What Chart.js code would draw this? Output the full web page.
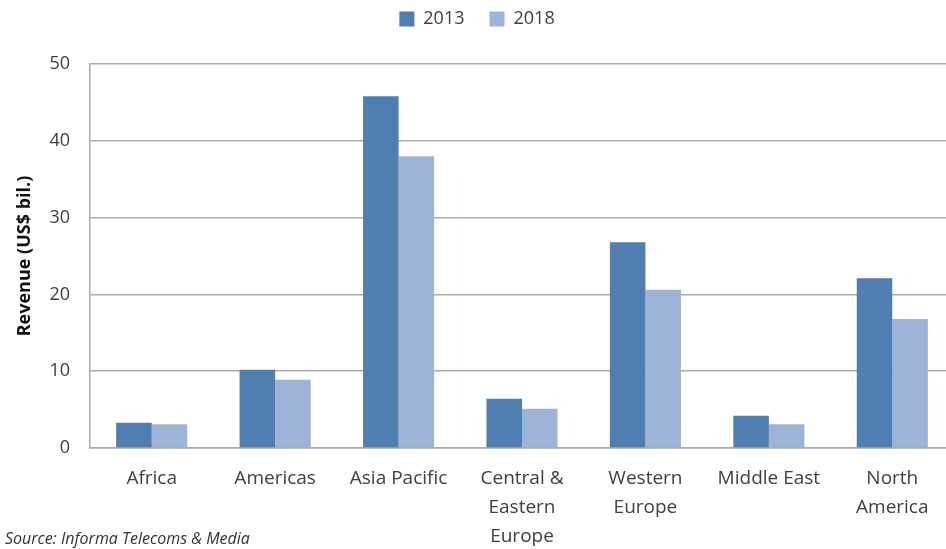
<!DOCTYPE html>
<html>
<head>
<meta charset="utf-8">
<script src="https://cdn.jsdelivr.net/npm/chart.js@4.4.1/dist/chart.umd.min.js"></script>
<style>
  html, body { margin: 0; padding: 0; background: #fff; overflow: hidden; }
  #wrap { position: relative; width: 956px; height: 549px; }
  #source {
    position: absolute; left: 5px; top: 527px;
    font-family: "Open Sans", sans-serif; font-style: italic; font-size: 16px;
    color: #333;
  }
</style>
</head>
<body>
<div id="wrap">
  <canvas id="chart" width="956" height="549"></canvas>
  <div id="source">Source: Informa Telecoms &amp; Media</div>
</div>
<script>
// data
const regions = ['Africa', 'Americas', 'Asia Pacific', ['Central &', 'Eastern', 'Europe'], ['Western', 'Europe'], 'Middle East', ['North', 'America']];
const revenue2013 = [3.3, 10.2, 45.8, 6.4, 26.8, 4.2, 22.1];
const revenue2018 = [3.1, 8.9, 38.0, 5.1, 20.6, 3.1, 16.8];
const yTicks = [0, 10, 20, 30, 40, 50];

const labelColor = '#404040';
const gridColor = '#ABABAB';

// leave room between the legend and the plot, like the original
const legendGap = {
    id: 'legendGap',
    beforeInit(chart) {
        const fit = chart.legend.fit;
        chart.legend.fit = function () {
            fit.bind(chart.legend)();
            this.height += 26;
        };
    }
};

var ctx = document.getElementById('chart');
new Chart(ctx, {
    type: 'bar',
    data: {
        labels: regions,
        datasets: [
            {
                label: '2013',
                data: revenue2013,
                backgroundColor: '#4F7EB1',
                categoryPercentage: 0.576,
                barPercentage: 1.0
            },
            {
                label: '2018',
                data: revenue2018,
                backgroundColor: '#9DB3D7',
                categoryPercentage: 0.576,
                barPercentage: 1.0
            }
        ]
    },
    options: {
        responsive: false,
        animation: false,
        layout: { padding: { top: -15, right: 2, left: 0, bottom: 0 } },
        plugins: {
            tooltip: { enabled: false },
            legend: {
                position: 'top',
                labels: {
                    boxWidth: 15,
                    boxHeight: 15,
                    padding: 25,
                    color: labelColor,
                    font: { family: 'Open Sans', size: 18 }
                }
            }
        },
        scales: {
            x: {
                afterFit: function (scale) { scale.height = 101; },
                grid: { display: false, drawTicks: false },
                border: { color: gridColor, width: 1.5 },
                ticks: {
                    color: labelColor,
                    padding: 16,
                    maxRotation: 0,
                    autoSkip: false,
                    font: { family: 'Open Sans', size: 19, lineHeight: 1.53 }
                }
            },
            y: {
                min: 0,
                max: 50,
                afterBuildTicks: function (scale) {
                    scale.ticks = yTicks.map(v => ({ value: v }));
                },
                afterFit: function (scale) { scale.width = 90; },
                grid: { color: gridColor, lineWidth: 1.5, drawTicks: false },
                border: { color: gridColor, width: 1.5 },
                ticks: {
                    color: labelColor,
                    padding: 20,
                    font: { family: 'Open Sans', size: 18 }
                },
                title: {
                    display: true,
                    text: 'Revenue (US$ bil.)',
                    color: '#111',
                    padding: { top: 14, bottom: 4 },
                    font: { family: 'Open Sans', size: 18, weight: 'bold' }
                }
            }
        }
    },
    plugins: [legendGap]
});
</script>
</body>
</html>
